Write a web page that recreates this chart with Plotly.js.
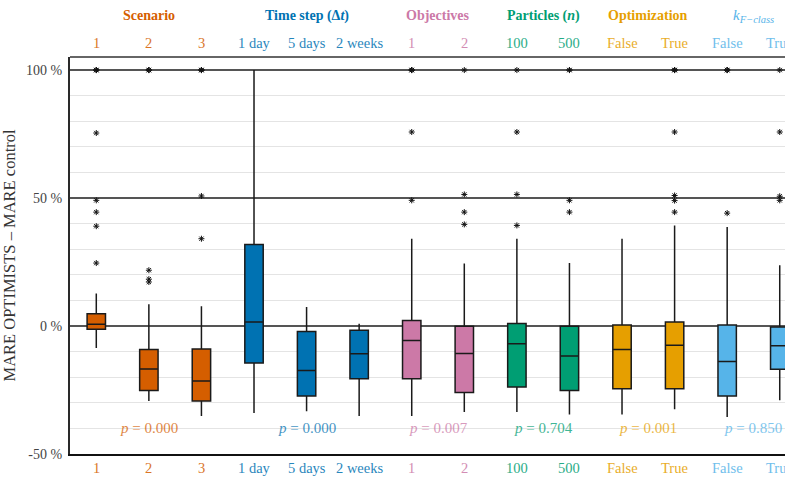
<!DOCTYPE html>
<html>
<head>
<meta charset="utf-8">
<script src="https://cdn.plot.ly/plotly-3.0.1.min.js"></script>
<style>
  html, body { margin: 0; padding: 0; background: #fff; }
  #chart { width: 785px; height: 489px; }
</style>
</head>
<body>
<div id="chart"></div>
<script>
// Factor groups and their level labels
const groupNames = [
  '<b>Scenario</b>',
  '<b>Time step (Δ<i>t</i>)</b>',
  '<b>Objectives</b>',
  '<b>Particles (<i>n</i>)</b>',
  '<b>Optimization</b>',
  '<i>k</i><sub><i>F−class</i></sub>'
];
const groupColors = ['#D55E00', '#0072B2', '#CC79A7', '#009E73', '#E69F00', '#56B4E9'];
const groupSizes = [3, 3, 2, 2, 2, 2];
const pValues = ['0.000', '0.000', '0.007', '0.704', '0.001', '0.850'];

const levelLabels = ['1', '2', '3', '1 day', '5 days', '2 weeks', '1', '2', '100', '500', 'False', 'True', 'False', 'True'];

// y-axis ticks (%)
const yTickValues = [-50, 0, 50, 100];
const yTickLabels = ['-50 %', '0 %', '50 %', '100 %'];

// Box statistics (% difference), one entry per level
const q1Values        = [-1.3, -25.2, -29.3, -14.4, -27.3, -20.6, -20.6, -26.0, -23.8, -25.2, -24.5, -24.5, -27.3, -16.9];
const medianValues    = [ 0.7, -16.8, -21.5,   1.6, -17.4, -10.8,  -5.7, -10.7,  -6.9, -11.7,  -9.2,  -7.5, -13.9,  -7.7];
const q3Values        = [ 4.8,  -9.2,  -9.0,  31.8,  -2.1,  -1.7,   2.2,  -0.1,   1.0,  -0.1,   0.4,   1.6,   0.4,  -0.4];
const lowerWhiskers   = [-8.6, -29.3, -35.2, -34.0, -33.3, -35.2, -35.2, -33.6, -33.6, -34.6, -34.6, -32.5, -35.5, -29.0];
const upperWhiskers   = [12.7,   8.5,   7.7, 100.0,   7.4,   0.9,  34.1,  24.4,  34.1,  24.6,  34.1,  39.3,  38.7,  23.7];

// Outlying runs per level
const outlierValues = [
  [100, 100, 100, 75.4, 49.1, 44.5, 39.0, 24.6],
  [100, 100, 100, 21.8, 18.3, 17.2],
  [100, 100, 100, 50.8, 34.1],
  [],
  [],
  [],
  [100, 100, 100, 75.8, 49.1],
  [100, 51.4, 44.5, 39.7],
  [100, 75.8, 51.4, 39.3],
  [100, 100, 49.1, 44.5],
  [],
  [100, 100, 100, 75.8, 51.0, 49.0, 44.5],
  [100, 100, 100, 44.1],
  [100, 75.8, 50.7, 49.1]
];

const serif = '"Liberation Serif", "Times New Roman", serif';
const traces = [];
const annotations = [];

// group index for each level
const levelGroup = [];
groupSizes.forEach((n, g) => { for (let k = 0; k < n; k++) levelGroup.push(g); });

// one box trace per factor group
let start = 0;
groupSizes.forEach((n, g) => {
  const idx = [];
  for (let k = 0; k < n; k++) idx.push(start + k);
  traces.push({
    type: 'box',
    x: idx,
    q1: idx.map(i => q1Values[i]),
    median: idx.map(i => medianValues[i]),
    q3: idx.map(i => q3Values[i]),
    lowerfence: idx.map(i => lowerWhiskers[i]),
    upperfence: idx.map(i => upperWhiskers[i]),
    width: 0.35,
    whiskerwidth: 0,
    boxpoints: false,
    fillcolor: groupColors[g],
    line: { color: '#1a1a1a', width: 1.5 },
    hoverinfo: 'skip',
    showlegend: false
  });

  const mid = start + (n - 1) / 2;
  // group title above the plot
  annotations.push({
    xref: 'x', yref: 'paper', x: mid, y: 1.104, yanchor: 'middle',
    text: groupNames[g], showarrow: false,
    font: { family: serif, size: g === 5 ? 15 : 14, color: groupColors[g] }
  });
  // test statistic inside the plot
  annotations.push({
    xref: 'x', yref: 'y', x: mid, y: -40, yanchor: 'middle',
    text: '<i>p</i> = ' + pValues[g], showarrow: false,
    font: { family: serif, size: 15, color: groupColors[g] },
    opacity: 0.75
  });
  start += n;
});

// level labels above and below the plot
levelLabels.forEach((lab, i) => {
  const c = groupColors[levelGroup[i]];
  [1.0345, -0.0353].forEach(yp => {
    annotations.push({
      xref: 'x', yref: 'paper', x: i, y: yp, yanchor: 'middle',
      text: lab, showarrow: false,
      font: { family: serif, size: 14.5, color: c },
      opacity: 0.85
    });
  });
});

// outlier markers
const ox = [], oy = [];
outlierValues.forEach((vals, i) => vals.forEach(v => { ox.push(i); oy.push(v); }));
traces.push({
  type: 'scatter', mode: 'markers', x: ox, y: oy,
  marker: { symbol: 'asterisk-open', size: 5, color: '#111', line: { color: '#111', width: 1 } },
  hoverinfo: 'skip', showlegend: false, cliponaxis: false
});

const layout = {
  width: 785, height: 489,
  margin: { l: 70, r: 0, t: 57, b: 35 },
  paper_bgcolor: '#fff', plot_bgcolor: '#fff',
  showlegend: false,
  font: { family: serif },
  xaxis: {
    range: [-0.5, 13.1],
    showticklabels: false, showgrid: false, zeroline: false,
    showline: true, linecolor: '#111', linewidth: 2.2,
    ticks: ''
  },
  yaxis: {
    range: [-50, 105.1],
    tickmode: 'array',
    tickvals: yTickValues,
    ticktext: yTickLabels,
    tickfont: { family: serif, size: 14, color: '#444' },
    ticks: '', ticklabelstandoff: 3,
    showgrid: true, gridcolor: '#555', gridwidth: 1.5,
    zeroline: false,
    minor: { dtick: 10, showgrid: true, gridcolor: '#e4e4e4', gridwidth: 1.2, ticks: '' },
    showline: true, linecolor: '#2a2a2a', linewidth: 2,
    title: { text: 'MARE OPTIMISTS – MARE control', font: { family: serif, size: 16.5, color: '#333' }, standoff: 10 }
  },
  // top frame edge
  shapes: [{
    type: 'line', xref: 'paper', yref: 'paper', x0: 0, x1: 1, y0: 1, y1: 1,
    line: { color: '#666', width: 2 }
  }],
  annotations: annotations
};

Plotly.newPlot('chart', traces, layout, { displayModeBar: false, staticPlot: true });
</script>
</body>
</html>
